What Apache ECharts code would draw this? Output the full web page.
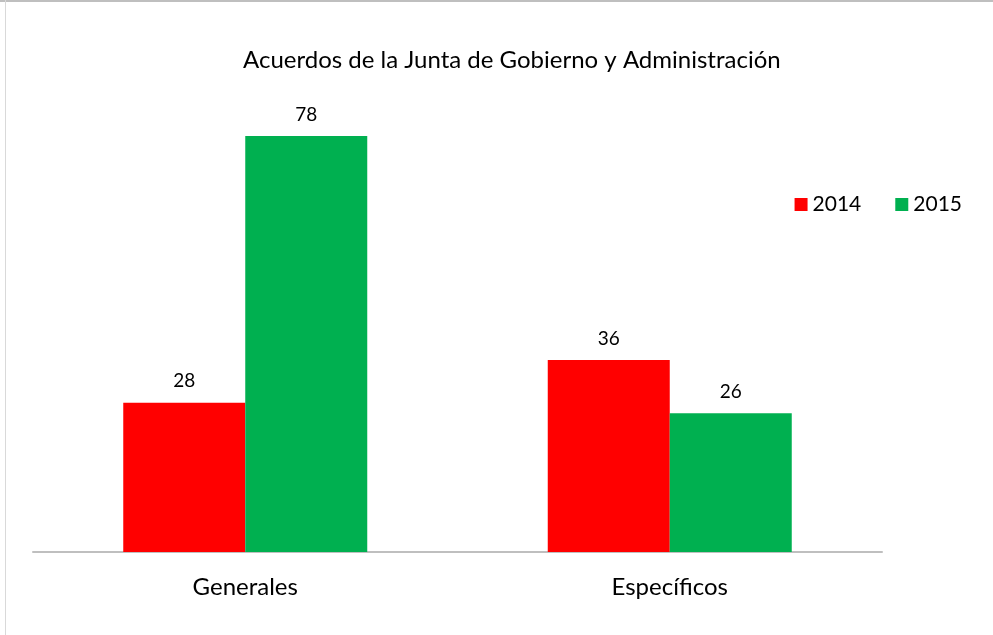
<!DOCTYPE html>
<html>
<head>
<meta charset="utf-8">
<script src="https://cdn.jsdelivr.net/npm/echarts@6/dist/echarts.min.js"></script>
<style>
  html, body { margin: 0; padding: 0; background: #fff; }
  #chart { width: 993px; height: 635px; }
</style>
</head>
<body>
<div id="chart"></div>
<script>
    // chart data
    var categories = ['Generales', 'Específicos'];
    var seriesNames = ['2014', '2015'];
    var values2014 = [28, 36];
    var values2015 = [78, 26];

    var FONT = 'Lato';

    var myChart = echarts.init(document.getElementById('chart'));

    function barSeries(name, data, color) {
        return {
            name: name, type: 'bar', data: data,
            barWidth: 122, barGap: '0%',
            itemStyle: { color: color },
            label: {
                show: true, position: 'top', distance: 12,
                color: '#000', fontFamily: FONT, fontSize: 19
            }
        };
    }

    var option = {
        animation: false,
        backgroundColor: '#fff',
        title: {
            text: 'Acuerdos de la Junta de Gobierno y Administración',
            left: 238, top: 43,
            textStyle: { fontFamily: FONT, fontWeight: 'normal', fontSize: 24, color: '#000' }
        },
        legend: {
            data: seriesNames,
            right: 26, top: 189,
            itemWidth: 13, itemHeight: 13, itemGap: 34,
            icon: 'rect',
            textStyle: { fontFamily: FONT, fontSize: 21, color: '#000' }
        },
        grid: { left: 33, right: 111, top: 72, bottom: 83, containLabel: false },
        xAxis: {
            type: 'category', data: categories,
            axisLine: { lineStyle: { color: '#bfbfbf', width: 2 } },
            axisTick: { show: false },
            axisLabel: { margin: 23, fontFamily: FONT, fontSize: 24, color: '#000' }
        },
        yAxis: {
            type: 'value', min: 0, max: 90, show: false,
            splitLine: { show: false }
        },
        graphic: [
            { type: 'rect', shape: { x: 0, y: 0, width: 993, height: 2 }, style: { fill: '#bfbfbf' } },
            { type: 'rect', shape: { x: 5, y: 0, width: 1, height: 635 }, style: { fill: '#d9d9d9' } }
        ],
        series: [
            barSeries(seriesNames[0], values2014, '#ff0000'),
            barSeries(seriesNames[1], values2015, '#00b050')
        ]
    };

    myChart.setOption(option);
</script>
</body>
</html>
